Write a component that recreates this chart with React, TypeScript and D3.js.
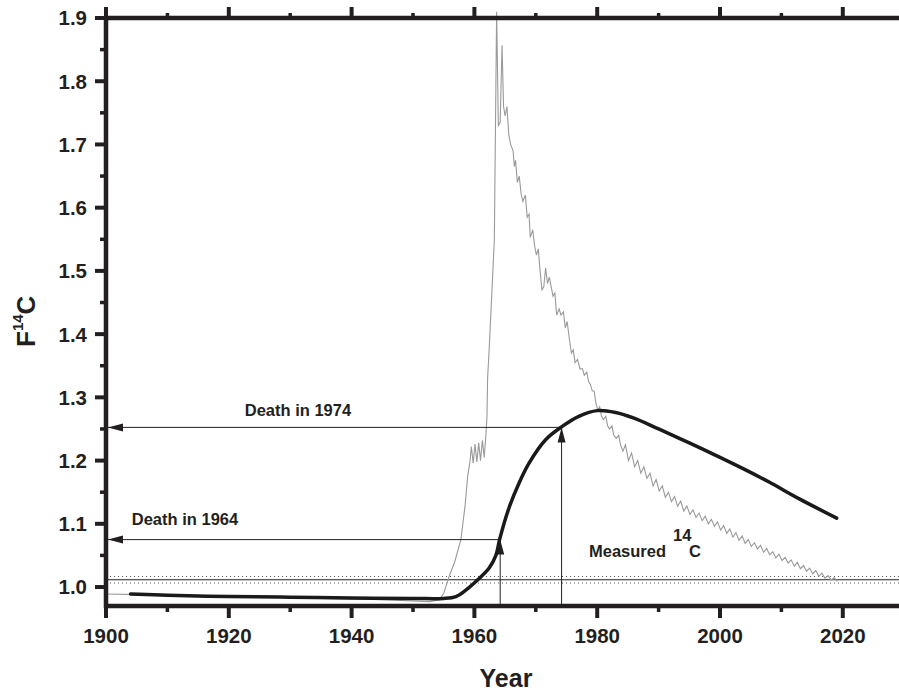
import React from "react";
import * as d3 from "d3";

const xTickYears = [1900, 1920, 1940, 1960, 1980, 2000, 2020];
const xMinorYears = [1910, 1930, 1950, 1970, 1990, 2010];
const yTickValues = [1.0, 1.1, 1.2, 1.3, 1.4, 1.5, 1.6, 1.7, 1.8, 1.9];
const yTickLabels = ["1.0", "1.1", "1.2", "1.3", "1.4", "1.5", "1.6", "1.7", "1.8", "1.9"];
const yMinorValues = [1.05, 1.15, 1.25, 1.35, 1.45, 1.55, 1.65, 1.75, 1.85];

// Atmospheric F14C (grey curve), [year, value]
const atmosphere: [number, number][] = [
  [1900, 0.989], [1905, 0.988], [1910, 0.987], [1915, 0.986], [1920, 0.985], [1925, 0.984],
  [1930, 0.983], [1935, 0.982], [1940, 0.981], [1945, 0.98], [1950, 0.978], [1952.7, 0.977],
  [1954.3, 0.98], [1955.0, 0.99], [1955.9, 1.017], [1956.8, 1.04], [1957.8, 1.075],
  [1958.5, 1.13], [1958.9, 1.175], [1959.3, 1.2], [1959.5, 1.222], [1959.8, 1.196],
  [1960.1, 1.226], [1960.4, 1.198], [1960.7, 1.228], [1961.0, 1.2], [1961.3, 1.232],
  [1961.6, 1.205], [1961.9, 1.245], [1962.05, 1.27], [1962.15, 1.33], [1962.4, 1.375],
  [1963.25, 1.55], [1963.62, 1.91], [1963.9, 1.73], [1964.2, 1.735], [1964.5, 1.857],
  [1964.75, 1.76], [1965.0, 1.745], [1965.3, 1.76], [1965.6, 1.715], [1965.9, 1.7],
  [1966.3, 1.69], [1966.5, 1.665], [1966.7, 1.675], [1967.0, 1.64], [1967.3, 1.65],
  [1967.6, 1.622], [1967.9, 1.61], [1968.3, 1.62], [1968.6, 1.585], [1968.9, 1.59],
  [1969.1, 1.553], [1969.5, 1.565], [1969.8, 1.54], [1970.1, 1.525], [1970.4, 1.535],
  [1970.7, 1.5], [1971.0, 1.47], [1971.3, 1.475], [1971.6, 1.505], [1971.9, 1.48],
  [1972.2, 1.49], [1972.5, 1.475], [1972.8, 1.46], [1973.1, 1.465], [1973.4, 1.43],
  [1973.8, 1.44], [1974.1, 1.43], [1974.5, 1.435], [1974.8, 1.41], [1975.1, 1.42],
  [1975.5, 1.39], [1975.8, 1.37], [1976.1, 1.375], [1976.4, 1.355], [1976.8, 1.36],
  [1977.2, 1.345], [1977.6, 1.345], [1977.9, 1.335], [1978.3, 1.34], [1978.6, 1.325],
  [1978.9, 1.32], [1979.2, 1.31], [1979.5, 1.31], [1979.8, 1.29], [1980.1, 1.28],
  [1980.4, 1.285], [1980.7, 1.27], [1981.0, 1.265], [1981.4, 1.27], [1981.7, 1.255],
  [1982.0, 1.25], [1982.4, 1.255], [1982.7, 1.24], [1983.1, 1.235], [1983.5, 1.24],
  [1983.8, 1.225], [1984.2, 1.215], [1984.6, 1.225], [1985.1, 1.2], [1985.6, 1.212],
  [1986.1, 1.19], [1986.6, 1.2], [1987.1, 1.18], [1987.6, 1.19], [1988.1, 1.172],
  [1988.6, 1.18], [1989.1, 1.16], [1989.6, 1.17], [1990.1, 1.152], [1990.6, 1.16],
  [1991.1, 1.142], [1991.6, 1.15], [1992.1, 1.135], [1992.6, 1.143], [1993.1, 1.128],
  [1993.6, 1.136], [1994.1, 1.12], [1994.6, 1.128], [1995.1, 1.115], [1995.6, 1.122],
  [1996.1, 1.11], [1996.6, 1.117], [1997.1, 1.105], [1997.6, 1.112], [1998.1, 1.1],
  [1998.6, 1.107], [1999.1, 1.096], [1999.6, 1.103], [2000.1, 1.09], [2000.6, 1.097],
  [2001.1, 1.085], [2001.6, 1.092], [2002.1, 1.079], [2002.6, 1.086], [2003.1, 1.074],
  [2003.6, 1.081], [2004.1, 1.069], [2004.6, 1.075], [2005.1, 1.064], [2005.6, 1.07],
  [2006.1, 1.06], [2006.6, 1.066], [2007.1, 1.055], [2007.6, 1.061], [2008.1, 1.051],
  [2008.6, 1.056], [2009.1, 1.046], [2009.6, 1.052], [2010.1, 1.042], [2010.6, 1.047],
  [2011.1, 1.038], [2011.6, 1.043], [2012.1, 1.033], [2012.6, 1.039], [2013.1, 1.029],
  [2013.6, 1.034], [2014.1, 1.025], [2014.6, 1.03], [2015.1, 1.021], [2015.6, 1.026],
  [2016.1, 1.017], [2016.6, 1.022], [2017.1, 1.014], [2017.6, 1.018], [2018.1, 1.011],
  [2018.6, 1.015], [2019.1, 1.009],
];

// Modelled tissue F14C (thick black curve), [year, value]
const tissue: [number, number][] = [
  [1904, 0.989], [1910, 0.987], [1920, 0.985], [1930, 0.984], [1940, 0.9825], [1950, 0.982],
  [1955, 0.982], [1957, 0.985], [1958.6, 0.995], [1960.5, 1.011], [1962.4, 1.03],
  [1963.5, 1.05], [1964.1, 1.075], [1965.7, 1.127], [1967.3, 1.165], [1968.9, 1.196],
  [1971.6, 1.233], [1974.3, 1.254], [1977, 1.27], [1980, 1.279], [1983, 1.276],
  [1986, 1.267], [1990, 1.25], [1995, 1.228], [2000, 1.205], [2004, 1.186],
  [2008, 1.166], [2013, 1.139], [2019, 1.109],
];

const deathYears = [1964.2, 1974.2];
const deathValues = [1.075, 1.2525];
const deathLabels = ["Death in 1964", "Death in 1974"];

// measured value band: lower, mean, upper
const measuredBand = [1.0063, 1.0115, 1.0167];

const W = 899;
const H = 692;
const FONT = "'Liberation Sans', Arial, Helvetica, sans-serif";
const INK = "#231f20";

export default function App() {
  const x = d3.scaleLinear().domain([1900, 2030]).range([106, 106 + 130 * 6.14]);
  const y = d3.scaleLinear().domain([0.97, 1.9]).range([606, 18]);
  const x0 = x(1900);
  const xEnd = W;
  const yBottom = y(0.97);
  const yTop = y(1.9);

  const line = d3.line<[number, number]>().x((d) => x(d[0])).y((d) => y(d[1]));
  const smooth = d3
    .line<[number, number]>()
    .x((d) => x(d[0]))
    .y((d) => y(d[1]))
    .curve(d3.curveCatmullRom.alpha(0.5));

  const labelPos = [
    { lx: 1904.2, ly: 1.098 },
    { lx: 1922.6, ly: 1.27 },
  ];

  return (
    <div style={{ position: "absolute", left: 0, top: 0 }}>
      <svg width={W} height={H} style={{ display: "block", background: "#fff" }} fontFamily={FONT}>
        {/* measured band */}
        {measuredBand.map((v, i) => (
          <line
            key={"m" + i}
            x1={x0}
            x2={xEnd}
            y1={y(v)}
            y2={y(v)}
            stroke={i === 1 ? INK : "#555"}
            strokeWidth={1}
            strokeDasharray={i === 1 ? undefined : "1,3"}
          />
        ))}

        {/* atmospheric curve */}
        <path d={line(atmosphere) || ""} fill="none" stroke="#9a9a9a" strokeWidth={1.1} />

        {/* death arrows */}
        {deathYears.map((yr, i) => {
          const px = x(yr);
          const py = y(deathValues[i]);
          return (
            <g key={"d" + i}>
              <line x1={px} x2={x0 + 2} y1={py} y2={py} stroke={INK} strokeWidth={1} />
              <path
                d={`M${x0 + 2},${py} L${x0 + 17},${py - 4} L${x0 + 17},${py + 4} Z`}
                fill={INK}
              />
              <line x1={px} x2={px} y1={yBottom} y2={py} stroke={INK} strokeWidth={1} />
              <path d={`M${px},${py} L${px - 4},${py + 15} L${px + 4},${py + 15} Z`} fill={INK} />
              <text
                x={x(labelPos[i].lx)}
                y={y(labelPos[i].ly)}
                fontSize={16.5}
                fontWeight="bold"
                fill={INK}
              >
                {deathLabels[i]}
              </text>
            </g>
          );
        })}

        {/* tissue curve */}
        <path d={smooth(tissue) || ""} fill="none" stroke="#1a1a1a" strokeWidth={3.5} strokeLinecap="round" />

        {/* measured label */}
        <text x={589} y={556.7} fontSize={16.5} fontWeight="bold" fill={INK}>
          Measured
        </text>
        <text x={673} y={541} fontSize={16.5} fontWeight="bold" fill={INK}>
          14
        </text>
        <text x={689} y={556.7} fontSize={16.5} fontWeight="bold" fill={INK}>
          C
        </text>

        {/* axes */}
        <line x1={x0} x2={xEnd} y1={yBottom} y2={yBottom} stroke={INK} strokeWidth={4.5} />
        <line x1={x0} x2={xEnd} y1={yTop} y2={yTop} stroke={INK} strokeWidth={4.5} />
        <line x1={x0} x2={x0} y1={yTop - 2.25} y2={yBottom + 2.25} stroke={INK} strokeWidth={4.5} />

        {xTickYears.map((t) => (
          <g key={"xt" + t}>
            <line x1={x(t)} x2={x(t)} y1={yBottom} y2={yBottom + 12} stroke={INK} strokeWidth={4} />
            <line x1={x(t)} x2={x(t)} y1={yTop} y2={yTop - 11} stroke={INK} strokeWidth={4} />
            <text
              x={x(t)}
              y={643}
              textAnchor="middle"
              fontSize={20.5}
              fontWeight="bold"
              fill={INK}
            >
              {t}
            </text>
          </g>
        ))}
        {xMinorYears.map((t) => (
          <g key={"xm" + t}>
            <line x1={x(t)} x2={x(t)} y1={yBottom} y2={yBottom + 6} stroke={INK} strokeWidth={3.5} />
            <line x1={x(t)} x2={x(t)} y1={yTop} y2={yTop - 5} stroke={INK} strokeWidth={3.5} />
          </g>
        ))}
        {yTickValues.map((v, i) => (
          <g key={"yt" + i}>
            <line x1={x0} x2={x0 - 11} y1={y(v)} y2={y(v)} stroke={INK} strokeWidth={4} />
            <text
              x={87}
              y={y(v)}
              dy="0.36em"
              textAnchor="end"
              fontSize={20.5}
              fontWeight="bold"
              fill={INK}
            >
              {yTickLabels[i]}
            </text>
          </g>
        ))}
        {yMinorValues.map((v, i) => (
          <line key={"ym" + i} x1={x0} x2={x0 - 6} y1={y(v)} y2={y(v)} stroke={INK} strokeWidth={3.5} />
        ))}

        {/* axis titles */}
        <text x={506} y={687} textAnchor="middle" fontSize={25} fontWeight="bold" fill={INK}>
          Year
        </text>
        <text transform="translate(35,347) rotate(-90)" fontSize={26} fontWeight="bold" fill={INK}>
          F
          <tspan fontSize={15} dy={-12}>
            14
          </tspan>
          <tspan dy={12}>C</tspan>
        </text>
      </svg>
    </div>
  );
}
